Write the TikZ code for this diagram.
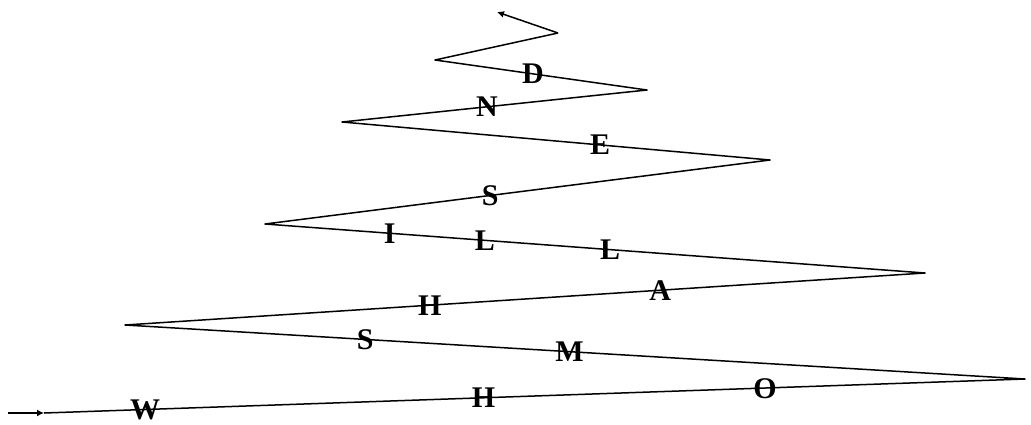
\documentclass[tikz,border=0pt]{standalone}
\usepackage{fontspec}
\setmainfont{Liberation Serif}
\usetikzlibrary{arrows.meta}
\tikzset{
  zig/.style={line width=1.5pt, line join=round},
  arr/.style={-{Latex[length=7pt, width=7pt]}, line width=1.5pt},
  letter/.style={inner sep=0pt, anchor=center, text height=20pt, text depth=0pt,
    font=\fontsize{30}{30}\selectfont\bfseries},
}
\begin{document}
\begin{tikzpicture}[x=1pt, y=-1pt]
\useasboundingbox (0,0) rectangle (1031,424);

% ── Turning points of the zigzag ──
\coordinate (start) at (8,413);
\coordinate (p0) at (44,413);
\coordinate (p1) at (1025,379);
\coordinate (p2) at (125,325);
\coordinate (p3) at (925,273);
\coordinate (p4) at (265,224);
\coordinate (p5) at (770,160);
\coordinate (p6) at (342,122);
\coordinate (p7) at (647,90);
\coordinate (p8) at (435,60);
\coordinate (p9) at (558,33);
\coordinate (stop) at (497,12);

% ── Entry arrow ──
\draw[arr] (start) -- (p0);

% ── Zigzag with the letters ──
\draw[zig] (p0)
  -- node[letter, pos=0.103] (w) {W}
     node[letter, pos=0.448] (h1) {H}
     node[letter, pos=0.735] (o) {O} (p1)
  -- node[letter, pos=0.506] (m) {M}
     node[letter, pos=0.733] (s1) {S} (p2)
  -- node[letter, pos=0.381] (h2) {H}
     node[letter, pos=0.669] (a) {A} (p3)
  -- node[letter, pos=0.477] (l1) {L}
     node[letter, pos=0.667] (l2) {L}
     node[letter, pos=0.811] (i) {I} (p4)
  -- node[letter, pos=0.446] (s2) {S} (p5)
  -- node[letter, pos=0.397] (e) {E} (p6)
  -- node[letter, pos=0.475] (n) {N} (p7)
  -- node[letter, pos=0.538] (d) {D} (p8)
  -- (p9);

% ── Exit arrow ──
\draw[arr] (p9) -- (stop);

\end{tikzpicture}
\end{document}
